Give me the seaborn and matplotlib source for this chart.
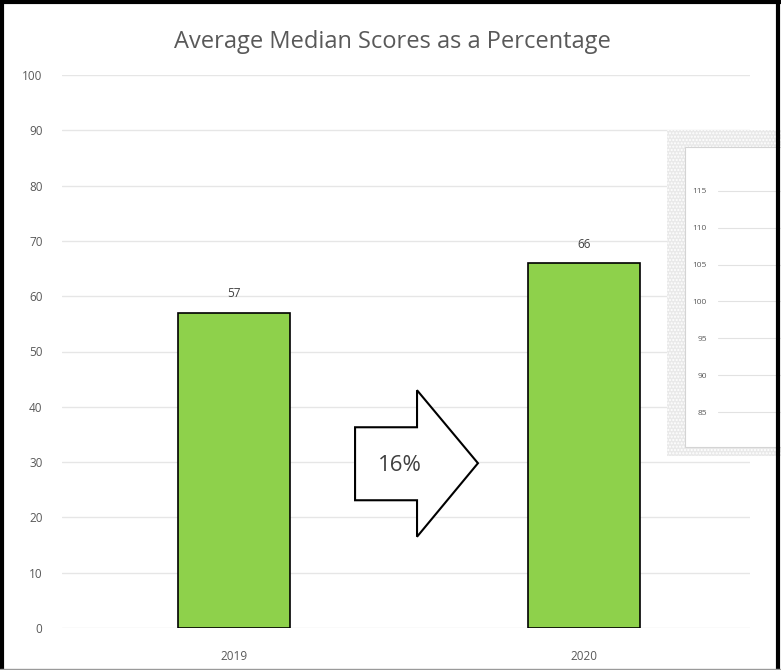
import matplotlib
matplotlib.use('Agg')
import matplotlib.pyplot as plt
from matplotlib.patches import Polygon, Rectangle
from matplotlib.lines import Line2D
import pandas as pd
import seaborn as sns

years = ['2019', '2020']
scores = [57, 66]
y_ticks = [0, 10, 20, 30, 40, 50, 60, 70, 80, 90, 100]
inset_ticks = [85, 90, 95, 100, 105, 110, 115]
title = 'Average Median Scores as a Percentage'

sns.set_theme(style='white')
plt.rcParams['font.family'] = ['Open Sans', 'DejaVu Sans']
plt.rcParams['hatch.color'] = '#b8b8b8'

df = pd.DataFrame({'year': years, 'score': scores})

W, H = 781, 670
fig = plt.figure(figsize=(W / 100, H / 100), dpi=100)
fig.patch.set_facecolor('white')

def px(x0, y0, x1, y1):
    # pixel box (top-left origin) -> figure fraction rect
    return [x0 / W, (H - y1) / H, (x1 - x0) / W, (y1 - y0) / H]

ax = fig.add_axes(px(62, 75, 750, 628))
sns.barplot(data=df, x='year', y='score', order=years, color='#8ed14b',
            width=0.32, edgecolor='black', linewidth=1.2, saturation=1, ax=ax)
ax.set_xlim(-0.491, 1.474)
ax.set_ylim(0, 100)
ax.set_yticks(y_ticks)
ax.set_xlabel('')
ax.set_ylabel('')
ax.yaxis.grid(True, color='#e6e6e6', linewidth=1)
ax.set_axisbelow(True)
for s in ax.spines.values():
    s.set_visible(False)
ax.tick_params(axis='y', length=0, pad=14, labelsize=8.5, labelcolor='#595959')
ax.tick_params(axis='x', length=0, pad=16, labelsize=8.5, labelcolor='#595959')
ax.bar_label(ax.containers[0], labels=[str(v) for v in scores], padding=9,
             fontsize=8.5, color='#404040')

# block arrow between the bars with the change
change = round((scores[1] - scores[0]) / scores[0] * 100)
arrow = Polygon([(0.346, 23.1), (0.346, 36.3), (0.523, 36.3), (0.523, 43.0),
                 (0.697, 29.8), (0.523, 16.5), (0.523, 23.1)],
                closed=True, facecolor='white', edgecolor='black', linewidth=1.5, zorder=3)
ax.add_patch(arrow)
ax.text(0.474, 29.3, f'{change}%', ha='center', va='center', fontsize=16,
        color='#404040', zorder=4)

fig.text(392 / W, (H - 42) / H, title, ha='center', va='center', fontsize=17,
         color='#595959')

# overlapping inset screenshot at right
shadow = Rectangle((667 / W, (H - 456) / H), (W - 667) / W, (456 - 130) / H,
                   transform=fig.transFigure, facecolor='#e9e9e9',
                   hatch='.....', linewidth=0, zorder=5)
fig.patches.append(shadow)
box = Rectangle((685 / W, (H - 447) / H), (W - 685) / W, 300 / H,
                transform=fig.transFigure, facecolor='white', edgecolor='#d4d4d4',
                linewidth=0.8, zorder=6)
fig.patches.append(box)

ax2 = fig.add_axes(px(718, 147, 781, 447))
ax2.set_zorder(7)
ax2.patch.set_alpha(0)
ax2.set_ylim(80.25, 120.97)
ax2.set_yticks(inset_ticks)
ax2.set_xticks([])
ax2.yaxis.grid(True, color='#e2e2e2', linewidth=0.8)
for s in ax2.spines.values():
    s.set_visible(False)
ax2.tick_params(axis='y', length=0, pad=8, labelsize=6, labelcolor='#595959')

# outer frame
fig.lines.extend([
    Line2D([2 / W, 2 / W], [0, 1], transform=fig.transFigure, color='black', lw=3, zorder=10),
    Line2D([0, 1], [1 - 2 / H, 1 - 2 / H], transform=fig.transFigure, color='black', lw=3, zorder=10),
    Line2D([1 - 3 / W, 1 - 3 / W], [0, 1], transform=fig.transFigure, color='black', lw=3, zorder=10),
    Line2D([0, 1], [1 / H, 1 / H], transform=fig.transFigure, color='#9a9a9a', lw=1, zorder=10),
])

fig.savefig('out.png', dpi=100)
